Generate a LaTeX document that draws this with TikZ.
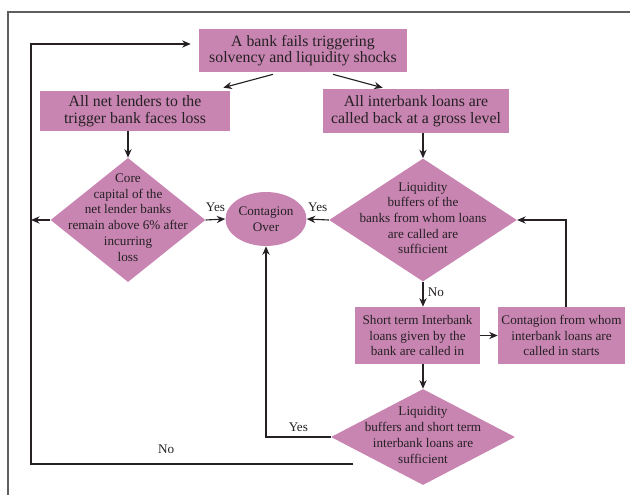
\documentclass[tikz,border=0pt]{standalone}
\usepackage{fontspec}
\setmainfont{Liberation Serif}
\usepackage{xcolor}
\usetikzlibrary{arrows.meta, positioning, calc, shapes}

\definecolor{boxpink}{RGB}{201,133,177}
\definecolor{inkgrey}{RGB}{36,32,36}
\definecolor{framegrey}{RGB}{95,95,95}

\tikzset{
  stepbox/.style={fill=boxpink, text=inkgrey, align=center, inner sep=0pt},
  bigbox/.style={stepbox, font=\fontsize{12}{12.6}\selectfont},
  smallbox/.style={stepbox, font=\fontsize{10}{11.9}\selectfont},
  decide/.style={diamond, fill=boxpink, inner sep=0pt},
  decidetext/.style={text=inkgrey, align=center, font=\fontsize{10}{11.9}\selectfont},
  arr/.style={-{Stealth[length=6.5pt,width=5.5pt]}, line width=0.85pt, draw=inkgrey},
  lbl/.style={text=inkgrey, font=\fontsize{10}{12}\selectfont},
}

\begin{document}
\begin{tikzpicture}[x=0.02667cm, y=-0.02667cm]
		\clip (0,0) rectangle (630,495);
		% Frame
		\draw[line width=1.4pt, framegrey] (8,520) -- (8,12) -- (660,12);
		
		% Boxes
		\node[bigbox, minimum width=5.55cm, minimum height=1.15cm] (trig) at (303,50.5)
		{A bank fails triggering\\solvency and liquidity shocks};
		\node[bigbox, minimum width=5.07cm, minimum height=1.07cm] (lend) at (135,111)
		{All net lenders to the\\trigger bank faces loss};
		\node[bigbox, minimum width=4.96cm, minimum height=1.17cm] (call) at (416,111)
		{All interbank loans are\\called back at a gross level};
		\node[smallbox, minimum width=3.33cm, minimum height=1.52cm] (stl) at (417.5,335.5)
		{Short term Interbank\\loans given by the\\bank are called in};
		\node[smallbox, minimum width=3.39cm, minimum height=1.52cm] (cont) at (561.5,335.5)
		{Contagion from whom\\interbank loans are\\called in starts};
		\node[ellipse, smallbox, minimum width=2.16cm, minimum height=1.44cm] (over) at (266,219)
		{Contagion\\Over};
		
		% Decisions
		\node[decide, minimum width=4.13cm, minimum height=3.31cm] (capd) at (128,220) {};
		\node[decidetext] (capdtext) at (128,217.5)
		{Core\\capital of the\\net lender banks\\remain above 6\% after\\incurring\\loss};
		\node[decide, minimum width=5.01cm, minimum height=3.28cm] (liqd) at (423,220) {};
		\node[decidetext] (liqdtext) at (423,218)
		{Liquidity\\buffers of the\\banks from whom loans\\are called are\\sufficient};
		\node[decide, minimum width=4.91cm, minimum height=2.56cm] (bufd) at (423,437) {};
		\node[decidetext] (bufdtext) at (423,435)
		{Liquidity\\buffers and short term\\interbank loans are\\sufficient};
		
		% Connectors
		\coordinate (rail) at (31,44);
		\coordinate (noend) at (353,464);
		\draw[arr] ($(trig.south)+(-30,2)$) -- ($(lend.north east)+(-7,-3)$);
		\draw[arr] ($(trig.south)+(30,2)$) -- ($(call.north west)+(60,-1)$);
		\draw[arr] (lend.south -| capd.north) -- (capd.north);
		\draw[arr] (call.south -| liqd.north) -- (liqd.north);
		\draw[arr] (capd.east) -- (over.west) node[lbl, midway, above=2pt] {Yes};
		\draw[arr] (liqd.west) -- (over.east) node[lbl, midway, above=2pt] {Yes};
		\draw[arr] (capd.west) -- (capd.west -| rail);
		\draw[arr] (liqd.south) -- (liqd.south |- stl.north) node[lbl, right, pos=0.4] {No};
		\draw[arr] (stl.east) -- (cont.west);
		\draw[arr] ($(cont.north)+(4.5,0)$) |- (liqd.east);
		\draw[arr] (stl.south -| bufd.north) -- (bufd.north);
		\draw[arr] (bufd.west) -| (over.south) node[lbl, pos=0.25, above] {Yes};
		\draw[arr] (noend) -| (rail) node[lbl, pos=0.29, above=4pt] {No}
		-- ($(trig.west)+(-8,-6.5)$);
	\end{tikzpicture}
\end{document}
